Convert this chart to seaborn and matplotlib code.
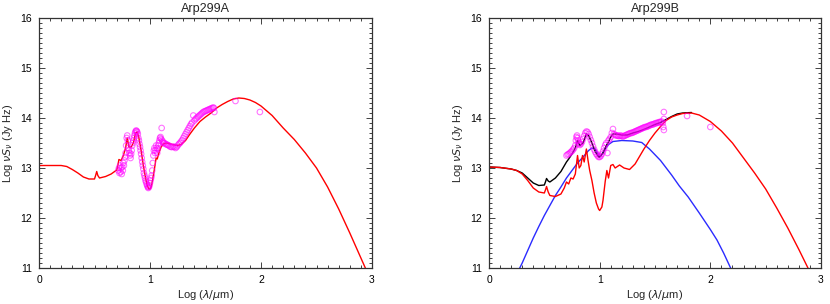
import numpy as np
import pandas as pd
import matplotlib
matplotlib.use("Agg")
import matplotlib.pyplot as plt
import seaborn as sns
from matplotlib.ticker import MultipleLocator

# ---- Arp299A: model SED (red) ----
sed_a_x = [0.0, 0.1, 0.2, 0.25, 0.3, 0.35, 0.4, 0.45, 0.5, 0.51, 0.52, 0.53, 0.545,
           0.6, 0.65, 0.7, 0.71, 0.72, 0.74, 0.76, 0.78, 0.795, 0.81, 0.83, 0.85,
           0.87, 0.885, 0.9, 0.92, 0.94, 0.96, 0.975, 0.99, 1.0, 1.01, 1.02, 1.04,
           1.055, 1.065, 1.08, 1.1, 1.12, 1.15, 1.2, 1.25, 1.28, 1.32, 1.36, 1.4,
           1.45, 1.5, 1.55, 1.6, 1.65, 1.7, 1.75, 1.8, 1.85, 1.9, 1.95, 2.0, 2.1,
           2.2, 2.3, 2.4, 2.5, 2.6, 2.7, 2.8, 2.9, 2.96]
sed_a_y = [13.05, 13.05, 13.05, 13.03, 12.97, 12.9, 12.82, 12.78, 12.78, 12.85, 12.93,
           12.85, 12.8, 12.83, 12.88, 12.96, 13.05, 13.17, 13.15, 13.25, 13.4, 13.6,
           13.42, 13.42, 13.5, 13.7, 13.72, 13.6, 13.35, 13.05, 12.8, 12.65, 12.58,
           12.58, 12.62, 12.72, 12.98, 13.2, 13.18, 13.3, 13.42, 13.48, 13.5, 13.47,
           13.45, 13.47, 13.55, 13.68, 13.8, 13.93, 14.02, 14.1, 14.2, 14.27, 14.33,
           14.38, 14.4, 14.39, 14.36, 14.31, 14.24, 14.05, 13.8, 13.57, 13.3, 13.0,
           12.62, 12.18, 11.7, 11.2, 10.9]

# ---- Arp299A: observed spectrum + photometry (magenta) ----
obs_a_x = [0.715, 0.72, 0.725, 0.73, 0.735, 0.74, 0.745, 0.75, 0.755, 0.76, 0.765,
           0.77, 0.775, 0.78, 0.785, 0.79, 0.795, 0.8, 0.805, 0.81, 0.815, 0.82,
           0.825, 0.83, 0.835, 0.84, 0.845, 0.85, 0.855, 0.86, 0.865, 0.87, 0.875,
           0.88, 0.885, 0.89, 0.895, 0.9, 0.905, 0.91, 0.915, 0.92, 0.925, 0.93,
           0.935, 0.94, 0.945, 0.95, 0.955, 0.96, 0.965, 0.97, 0.975, 0.98, 0.985,
           0.99, 0.995, 1.0, 1.005, 1.01, 1.015, 1.02, 1.025, 1.03, 1.035, 1.04,
           1.045, 1.05, 1.055, 1.06, 1.065, 1.07, 1.075, 1.08, 1.085, 1.09, 1.095,
           1.1, 1.105, 1.11, 1.115, 1.12, 1.13, 1.14, 1.15, 1.16, 1.17, 1.18, 1.19,
           1.2, 1.21, 1.22, 1.23, 1.24, 1.25, 1.26, 1.27, 1.28, 1.29, 1.3, 1.31,
           1.32, 1.33, 1.34, 1.35, 1.36, 1.37, 1.38, 1.39, 1.4, 1.41, 1.42, 1.43,
           1.44, 1.45, 1.46, 1.47, 1.48, 1.49, 1.5, 1.51, 1.52, 1.53, 1.54, 1.55,
           1.56, 1.57, 1.575, 1.58, 1.77, 1.99]
obs_a_y = [12.95, 13.0, 12.9, 13.05, 12.92, 13.0, 12.88, 13.02, 12.95, 13.1, 13.05,
           13.15, 13.22, 13.3, 13.45, 13.6, 13.65, 13.55, 13.4, 13.35, 13.3, 13.25,
           13.2, 13.28, 13.35, 13.45, 13.5, 13.55, 13.6, 13.65, 13.7, 13.73, 13.75,
           13.74, 13.72, 13.68, 13.6, 13.55, 13.48, 13.42, 13.35, 13.28, 13.2, 13.12,
           13.05, 12.98, 12.9, 12.85, 12.8, 12.75, 12.72, 12.68, 12.65, 12.62, 12.6,
           12.62, 12.65, 12.7, 12.75, 12.8, 12.85, 12.95, 13.1, 13.25, 13.35, 13.4,
           13.3, 13.35, 13.45, 13.4, 13.3, 13.38, 13.45, 13.5, 13.55, 13.6, 13.62,
           13.58, 13.8, 13.55, 13.52, 13.5, 13.5, 13.48, 13.47, 13.46, 13.45, 13.43,
           13.42, 13.42, 13.43, 13.42, 13.4, 13.42, 13.45, 13.48, 13.5, 13.53, 13.56,
           13.6, 13.64, 13.68, 13.72, 13.76, 13.8, 13.84, 13.88, 13.91, 14.05, 13.95,
           13.98, 14.0, 14.02, 14.04, 14.06, 14.08, 14.1, 14.12, 14.13, 14.14, 14.15,
           14.16, 14.17, 14.18, 14.19, 14.2, 14.21, 14.2, 14.12, 14.34, 14.12]

# ---- Arp299B: starburst (red), AGN torus (blue), total (black) ----
sb_b_x = [0.0, 0.1, 0.2, 0.25, 0.3, 0.35, 0.4, 0.45, 0.5, 0.51, 0.52, 0.535, 0.55,
          0.6, 0.65, 0.68, 0.7, 0.72, 0.74, 0.76, 0.78, 0.8, 0.815, 0.83, 0.845,
          0.86, 0.88, 0.895, 0.91, 0.93, 0.95, 0.97, 0.99, 1.0, 1.02, 1.03, 1.05,
          1.065, 1.08, 1.1, 1.12, 1.14, 1.18, 1.22, 1.27, 1.32, 1.36, 1.4, 1.45,
          1.5, 1.55, 1.6, 1.65, 1.7, 1.75, 1.83, 1.9, 2.0, 2.1, 2.2, 2.3, 2.4, 2.5,
          2.6, 2.7, 2.8, 2.9]
sb_b_y = [13.02, 13.01, 12.98, 12.95, 12.88, 12.75, 12.6, 12.52, 12.5, 12.56, 12.63,
          12.52, 12.45, 12.43, 12.48, 12.6, 12.72, 12.68, 12.8, 12.78, 12.88, 13.25,
          13.0, 13.05, 13.25, 13.12, 13.38, 13.15, 12.95, 12.75, 12.5, 12.3, 12.18,
          12.15, 12.22, 12.35, 12.73, 12.95, 12.8, 13.05, 13.07, 13.0, 13.06, 13.0,
          12.97, 13.08, 13.23, 13.38, 13.55, 13.7, 13.83, 13.95, 14.02, 14.06, 14.09,
          14.1, 14.06, 13.93, 13.74, 13.5, 13.2, 12.9, 12.58, 12.2, 11.8, 11.37,
          10.92]

agn_b_x = [0.26, 0.3, 0.35, 0.4, 0.45, 0.5, 0.55, 0.6, 0.65, 0.7, 0.75, 0.8, 0.85,
           0.9, 0.93, 0.96, 0.98, 1.0, 1.02, 1.05, 1.08, 1.12, 1.2, 1.3, 1.38, 1.45,
           1.55, 1.65, 1.72, 1.8, 1.9, 2.0, 2.06, 2.12, 2.2]
agn_b_y = [10.92, 11.1, 11.35, 11.6, 11.83, 12.05, 12.25, 12.45, 12.62, 12.8, 12.95,
           13.1, 13.22, 13.35, 13.4, 13.38, 13.3, 13.22, 13.27, 13.38, 13.47, 13.53,
           13.55, 13.54, 13.51, 13.38, 13.15, 12.86, 12.64, 12.42, 12.1, 11.77, 11.56,
           11.3, 10.92]

tot_b_x = [0.0, 0.1, 0.2, 0.25, 0.3, 0.35, 0.4, 0.45, 0.5, 0.51, 0.52, 0.535, 0.55,
           0.6, 0.65, 0.7, 0.72, 0.75, 0.78, 0.8, 0.82, 0.85, 0.88, 0.9, 0.93, 0.96,
           0.99, 1.0, 1.03, 1.06, 1.08, 1.1, 1.12, 1.15, 1.2, 1.25, 1.3, 1.35, 1.4,
           1.45, 1.5, 1.55, 1.6, 1.65, 1.7, 1.75, 1.83]
tot_b_y = [13.02, 13.01, 12.98, 12.95, 12.9, 12.8, 12.7, 12.65, 12.66, 12.72, 12.79,
           12.74, 12.72, 12.8, 12.93, 13.12, 13.18, 13.28, 13.4, 13.55, 13.45, 13.5,
           13.68, 13.65, 13.5, 13.33, 13.22, 13.22, 13.3, 13.45, 13.52, 13.62, 13.68,
           13.68, 13.66, 13.66, 13.7, 13.73, 13.77, 13.82, 13.87, 13.91, 13.97, 14.03,
           14.08, 14.1, 14.11]

# ---- Arp299B: observed spectrum + photometry ----
obs_b_x = [0.7, 0.71, 0.72, 0.73, 0.74, 0.75, 0.76, 0.77, 0.78, 0.785, 0.79, 0.795,
           0.8, 0.805, 0.81, 0.815, 0.82, 0.83, 0.84, 0.85, 0.86, 0.87, 0.88, 0.89,
           0.9, 0.91, 0.92, 0.93, 0.94, 0.95, 0.96, 0.97, 0.98, 0.99, 1.0, 1.01,
           1.02, 1.03, 1.04, 1.05, 1.06, 1.07, 1.08, 1.09, 1.1, 1.11, 1.12, 1.13,
           1.14, 1.15, 1.16, 1.17, 1.18, 1.19, 1.2, 1.21, 1.22, 1.23, 1.24, 1.25,
           1.26, 1.27, 1.28, 1.29, 1.3, 1.31, 1.32, 1.33, 1.34, 1.35, 1.36, 1.37,
           1.38, 1.39, 1.4, 1.41, 1.42, 1.43, 1.44, 1.45, 1.46, 1.47, 1.48, 1.49,
           1.5, 1.51, 1.52, 1.53, 1.54, 1.55, 1.56, 1.57, 1.575, 1.58, 1.58, 1.58,
           1.79, 2.0]
obs_b_y = [13.25, 13.27, 13.28, 13.3, 13.32, 13.34, 13.37, 13.4, 13.45, 13.55, 13.62,
           13.65, 13.6, 13.55, 13.5, 13.48, 13.46, 13.48, 13.52, 13.58, 13.64, 13.7,
           13.73, 13.72, 13.68, 13.62, 13.56, 13.5, 13.43, 13.37, 13.32, 13.28,
           13.25, 13.22, 13.22, 13.24, 13.28, 13.33, 13.4, 13.46, 13.5, 13.3, 13.55,
           13.58, 13.62, 13.7, 13.78, 13.68, 13.66, 13.65, 13.65, 13.64, 13.64,
           13.65, 13.64, 13.63, 13.64, 13.65, 13.66, 13.67, 13.68, 13.69, 13.7, 13.7,
           13.71, 13.72, 13.73, 13.74, 13.75, 13.76, 13.77, 13.78, 13.79, 13.8,
           13.81, 13.82, 13.82, 13.83, 13.84, 13.85, 13.86, 13.87, 13.87, 13.88,
           13.89, 13.9, 13.9, 13.91, 13.92, 13.92, 13.93, 13.9, 13.82, 14.12, 13.98,
           13.76, 14.04, 13.82]

titles = ["Arp299A", "Arp299B"]
x_label = r"Log ($\lambda/\mu$m)"
y_label = r"Log $\nu S_\nu$ (Jy Hz)"

RED = "#ff0000"
BLUE = "#2b2bff"
MAGENTA = "#ff00ff"

sns.set_theme(style="ticks")
plt.rcParams["font.family"] = ["Liberation Sans", "DejaVu Sans"]
plt.rcParams["mathtext.fontset"] = "dejavusans"

fig = plt.figure(figsize=(8.3, 3.04), dpi=100)
ax_a = fig.add_axes([39 / 830, 36 / 304, 333 / 830, 250 / 304])
ax_b = fig.add_axes([489 / 830, 36 / 304, 332 / 830, 250 / 304])


def draw_line(ax, x, y, color):
    df = pd.DataFrame({"x": x, "y": y})
    sns.lineplot(data=df, x="x", y="y", ax=ax, color=color, linewidth=1.0,
                 sort=False, estimator=None)


def draw_obs(ax, x, y):
    ax.scatter(x, y, s=16, facecolors="none", edgecolors=MAGENTA,
               linewidths=0.8, alpha=0.55, zorder=3)


def style_axes(ax, title):
    ax.set_xlim(0, 3)
    ax.set_ylim(11, 16)
    ax.xaxis.set_major_locator(MultipleLocator(1))
    ax.xaxis.set_minor_locator(MultipleLocator(0.1))
    ax.yaxis.set_major_locator(MultipleLocator(1))
    ax.yaxis.set_minor_locator(MultipleLocator(0.1))
    ax.tick_params(which="both", direction="in", top=True, right=True,
                   width=0.6, colors="#222222", labelcolor="black", labelsize=7.5)
    ax.tick_params(which="major", length=4.5, pad=5)
    ax.tick_params(which="minor", length=2.5)
    for sp in ax.spines.values():
        sp.set_visible(True)
        sp.set_linewidth(0.9)
        sp.set_color("#333333")
    ax.set_title(title, fontsize=9, pad=4)
    ax.set_xlabel(x_label, fontsize=8, labelpad=2)
    ax.set_ylabel(y_label, fontsize=8, labelpad=4)


# left panel
draw_obs(ax_a, obs_a_x, obs_a_y)
draw_line(ax_a, sed_a_x, sed_a_y, RED)
style_axes(ax_a, titles[0])

# right panel
draw_line(ax_b, agn_b_x, agn_b_y, BLUE)
draw_line(ax_b, tot_b_x, tot_b_y, "black")
draw_obs(ax_b, obs_b_x, obs_b_y)
draw_line(ax_b, sb_b_x, sb_b_y, RED)
style_axes(ax_b, titles[1])

fig.savefig("out.png", dpi=100)
